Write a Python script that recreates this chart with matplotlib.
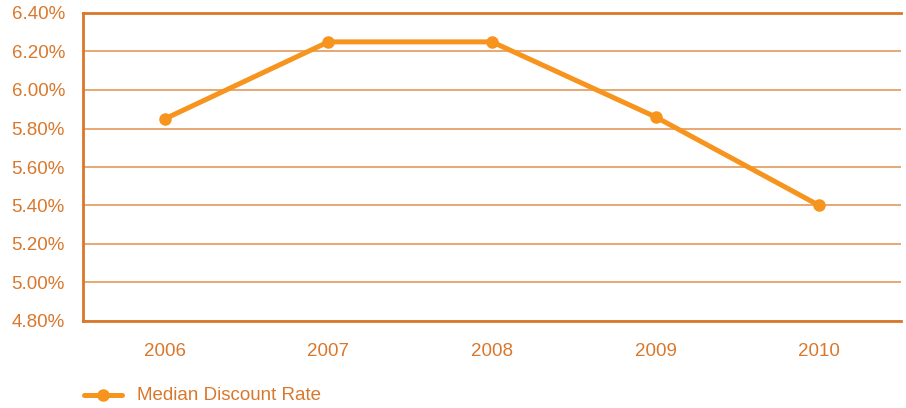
import matplotlib
matplotlib.use("Agg")
import matplotlib.pyplot as plt
from matplotlib.ticker import FuncFormatter

years = ["2006", "2007", "2008", "2009", "2010"]
rates = [5.85, 6.25, 6.25, 5.86, 5.40]
yticks = [4.8, 5.0, 5.2, 5.4, 5.6, 5.8, 6.0, 6.2, 6.4]
series_name = "Median Discount Rate"

line_c = "#F7941D"
text_c = "#D9782D"
grid_c = "#E39A5C"
spine_c = "#D9772A"

plt.rcParams['font.family'] = ['Liberation Sans', 'DejaVu Sans']

fig = plt.figure(figsize=(9.06, 4.08), dpi=100)
ax = fig.add_axes([83/906, 1-321/408, (901-83)/906, 308/408])
x = list(range(len(years)))
ax.plot(x, rates, color=line_c, lw=3.6, marker='o', ms=8, solid_capstyle='round', zorder=3, clip_on=False)
ax.set_xlim(-0.5, len(years)-0.5)
ax.set_ylim(4.8, 6.4)
ax.set_yticks(yticks)
ax.yaxis.set_major_formatter(FuncFormatter(lambda v, p: f"{v:.2f}%"))
ax.set_xticks(x)
ax.set_xticklabels(years)
ax.grid(axis='y', color=grid_c, lw=1.2)
ax.set_axisbelow(True)
for s in ['right']:
    ax.spines[s].set_visible(False)
for s in ['left', 'bottom', 'top']:
    ax.spines[s].set_color(spine_c)
    ax.spines[s].set_linewidth(2)
ax.tick_params(axis='both', length=0, labelcolor=text_c, labelsize=13.5)
ax.tick_params(axis='y', pad=13)
ax.tick_params(axis='x', pad=16)

# legend
fig.lines.append(plt.Line2D([84/906, 122/906], [1-395/408]*2, transform=fig.transFigure,
                            color=line_c, lw=3.6, solid_capstyle='round'))
fig.lines.append(plt.Line2D([103/906], [1-395/408], transform=fig.transFigure,
                            color=line_c, marker='o', ms=8, lw=0))
fig.text(137/906, 1-395/408, series_name, color=text_c, fontsize=13.5, va='center', ha='left')

fig.savefig("out.png", dpi=100)
